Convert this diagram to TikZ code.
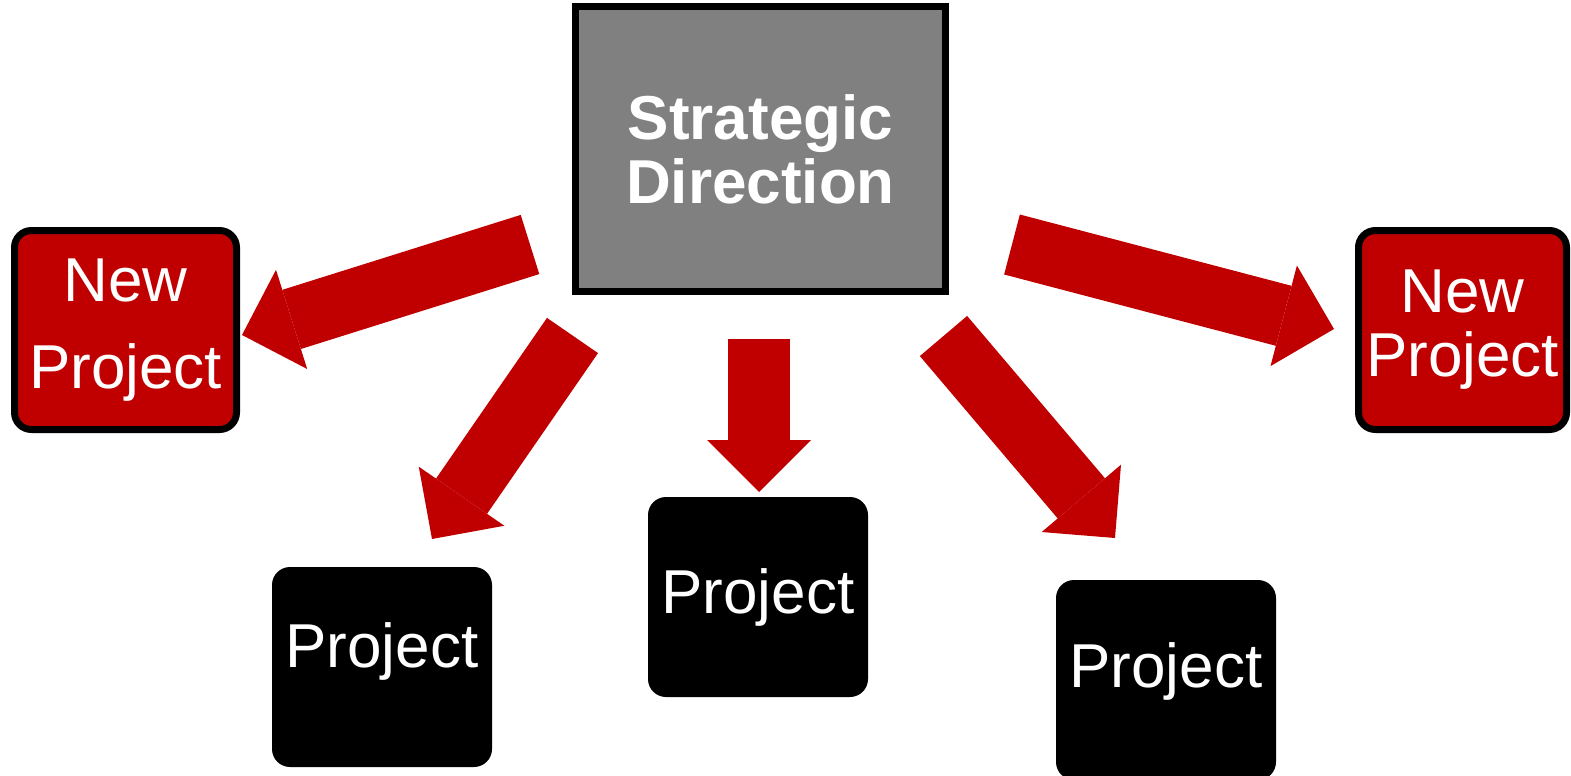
\documentclass[tikz,border=0pt]{standalone}
\usepackage{fontspec}
\setmainfont{Liberation Sans}
\usetikzlibrary{arrows.meta}
\definecolor{projred}{RGB}{192,0,0}
\definecolor{dirgray}{RGB}{128,128,128}

\begin{document}
\begin{tikzpicture}[
  x=0.5pt,
  y=-0.5pt,
  dirbox/.style={draw=black,fill=dirgray,line width=3.5pt,minimum width=185pt,minimum height=142.5pt,inner sep=0pt,align=center,text=white,font=\fontsize{31}{32}\selectfont\bfseries},
  newbox/.style={draw=black,fill=projred,line width=3.5pt,rounded corners=8.5pt,minimum width=#1,minimum height=99.5pt,inner sep=0pt,align=center,text=white,font=\fontsize{31}{32}\selectfont},
  projbox/.style={fill=black,rounded corners=9pt,minimum width=110pt,minimum height=100pt,inner sep=0pt,text=white,font=\fontsize{31}{32}\selectfont},
  push/.style={projred,line width=31pt,-{Triangle[length=26pt,width=52pt,line width=0pt]}}
]
\useasboundingbox (0,0) rectangle (1571,776);
\node[dirbox] (dir) at (760.5,149) {Strategic\\Direction};
\node[newbox=111pt] (newl) at (125.5,330) {New\\[11.5pt]Project};
\node[newbox=104pt] (newr) at (1462.5,330) {New\\Project};
\node[projbox,text depth=21.5pt] (pl) at (382,667) {Project};
\node[projbox] (pm) at (758,597) {Project};
\node[projbox,text depth=14.5pt] (pr) at (1166,680) {Project};
% tails and tips of the block arrows
\coordinate (l0) at (530,244.5);   \coordinate (l1) at (242,335);
\coordinate (r0) at (1012,244.5);  \coordinate (r1) at (1334,329);
\coordinate (bl0) at (572.5,335.5); \coordinate (bl1) at (432,539);
\coordinate (bm0) at (759,339);    \coordinate (bm1) at (759,492);
\coordinate (br0) at (943.5,336);  \coordinate (br1) at (1115,538);
\foreach \a in {l,r,bl,bm,br}
  \draw[push] (\a0) -- (\a1);
\end{tikzpicture}
\end{document}
